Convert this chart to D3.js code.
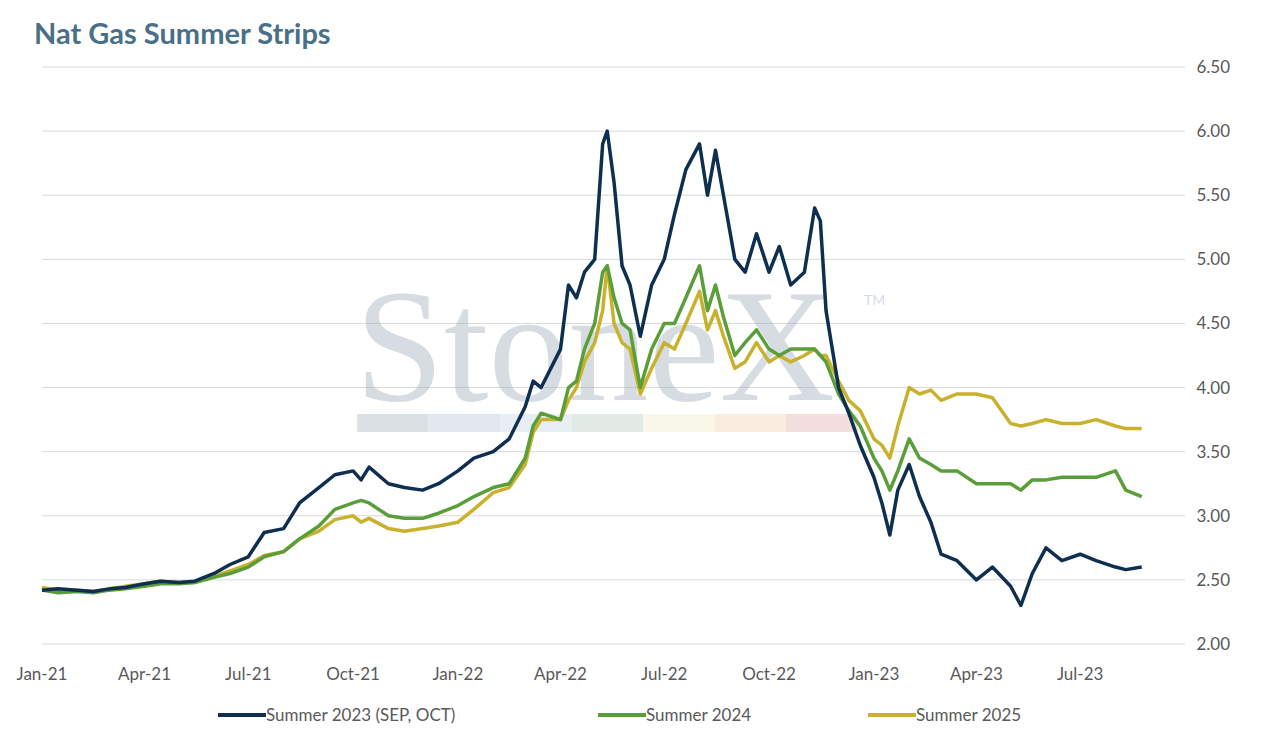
<!DOCTYPE html>
<html><head><meta charset="utf-8">
<script src="https://cdn.jsdelivr.net/npm/d3@7"></script>
<style>body{margin:0;background:#fff;font-family:Lato,"Open Sans",sans-serif;}</style>
</head><body><svg id="c" width="1271" height="734"></svg>
<script>
// date, summer23, summer24, summer25
var rows = [
["2021-01-01",2.42,2.42,2.44],["2021-01-15",2.43,2.40,2.42],["2021-02-01",2.42,2.41,2.42],["2021-02-15",2.41,2.40,2.41],
["2021-03-01",2.43,2.42,2.43],["2021-03-15",2.44,2.43,2.45],["2021-04-01",2.47,2.45,2.47],["2021-04-15",2.49,2.47,2.49],
["2021-05-01",2.48,2.47,2.48],["2021-05-15",2.49,2.48,2.48],["2021-06-01",2.55,2.52,2.53],["2021-06-15",2.62,2.55,2.57],
["2021-07-01",2.68,2.60,2.62],["2021-07-15",2.87,2.68,2.69],["2021-08-01",2.90,2.72,2.72],["2021-08-15",3.10,2.82,2.82],
["2021-09-01",3.22,2.92,2.88],["2021-09-15",3.32,3.05,2.97],["2021-10-01",3.35,3.10,3.00],["2021-10-08",3.28,3.12,2.95],
["2021-10-15",3.38,3.10,2.98],["2021-11-01",3.25,3.00,2.90],["2021-11-15",3.22,2.98,2.88],["2021-12-01",3.20,2.98,2.90],
["2021-12-15",3.25,3.02,2.92],["2022-01-01",3.35,3.08,2.95],["2022-01-15",3.45,3.15,3.05],["2022-02-01",3.50,3.22,3.18],
["2022-02-15",3.60,3.25,3.22],["2022-03-01",3.85,3.45,3.40],["2022-03-08",4.05,3.70,3.65],["2022-03-15",4.00,3.80,3.75],
["2022-04-01",4.30,3.75,3.75],["2022-04-08",4.80,4.00,3.90],["2022-04-15",4.70,4.05,4.00],["2022-04-22",4.90,4.30,4.20],
["2022-05-01",5.00,4.50,4.35],["2022-05-08",5.90,4.90,4.60],["2022-05-12",6.00,4.95,4.95],["2022-05-18",5.60,4.70,4.50],
["2022-05-25",4.95,4.50,4.35],["2022-06-01",4.80,4.45,4.30],["2022-06-10",4.40,4.00,3.95],["2022-06-20",4.80,4.30,4.15],
["2022-07-01",5.00,4.50,4.35],["2022-07-10",5.35,4.50,4.30],["2022-07-20",5.70,4.70,4.50],["2022-08-01",5.90,4.95,4.75],
["2022-08-08",5.50,4.60,4.45],["2022-08-15",5.85,4.80,4.60],["2022-08-22",5.50,4.55,4.40],["2022-09-01",5.00,4.25,4.15],
["2022-09-10",4.90,4.35,4.20],["2022-09-20",5.20,4.45,4.35],["2022-10-01",4.90,4.30,4.20],["2022-10-10",5.10,4.25,4.25],
["2022-10-20",4.80,4.30,4.20],["2022-11-01",4.90,4.30,4.25],["2022-11-10",5.40,4.30,4.30],["2022-11-15",5.30,4.25,4.25],
["2022-11-20",4.60,4.20,4.25],["2022-12-01",4.00,3.95,4.05],["2022-12-10",3.80,3.82,3.90],["2022-12-20",3.55,3.70,3.82],
["2023-01-01",3.30,3.45,3.60],["2023-01-08",3.10,3.35,3.55],["2023-01-15",2.85,3.20,3.45],["2023-01-22",3.20,3.35,3.70],
["2023-02-01",3.40,3.60,4.00],["2023-02-10",3.15,3.45,3.95],["2023-02-20",2.95,3.40,3.98],["2023-03-01",2.70,3.35,3.90],
["2023-03-15",2.65,3.35,3.95],["2023-04-01",2.50,3.25,3.95],["2023-04-15",2.60,3.25,3.92],["2023-05-01",2.45,3.25,3.72],
["2023-05-10",2.30,3.20,3.70],["2023-05-20",2.55,3.28,3.72],["2023-06-01",2.75,3.28,3.75],["2023-06-15",2.65,3.30,3.72],
["2023-07-01",2.70,3.30,3.72],["2023-07-15",2.65,3.30,3.75],["2023-08-01",2.60,3.35,3.70],["2023-08-10",2.58,3.20,3.68],
["2023-08-24",2.60,3.15,3.68]
];
var parse = d3.timeParse("%Y-%m-%d");
var data = rows.map(function(r){ return {d: parse(r[0]), v: [r[1], r[2], r[3]]}; });
var series = [
  {name: "Summer 2023 (SEP, OCT)", color: "#0e2f4f"},
  {name: "Summer 2024", color: "#5a9e3a"},
  {name: "Summer 2025", color: "#c9b12e"}
];

var svg = d3.select("#c");
var x = d3.scaleTime().domain([parse("2021-01-01"), parse("2023-10-01")]).range([42, 1185]);
var y = d3.scaleLinear().domain([2, 6.5]).range([644, 67]);

svg.append("text").attr("x", 34).attr("y", 44).text("Nat Gas Summer Strips")
  .attr("fill", "#4a7089").attr("font-size", 29).attr("font-weight", 700);

// grid
svg.append("g").selectAll("line").data(y.ticks(9)).join("line")
  .attr("x1", 42).attr("x2", 1185).attr("y1", y).attr("y2", y)
  .attr("stroke", "#d9d9d9");
svg.append("g").selectAll("text").data(y.ticks(9)).join("text")
  .attr("x", 1230).attr("y", function(d){ return y(d) + 6; }).attr("text-anchor", "end")
  .attr("font-size", 17).attr("fill", "#595959").text(d3.format(".2f"));

var xt = d3.timeMonth.every(3).range(parse("2021-01-01"), parse("2023-08-01"));
svg.append("g").selectAll("text").data(xt).join("text")
  .attr("x", x).attr("y", 680).attr("text-anchor", "middle")
  .attr("font-size", 17).attr("fill", "#595959").text(d3.timeFormat("%b-%y"));

// watermark
var wm = svg.append("g").attr("opacity", 0.4);
wm.append("text").attr("x", 355).attr("y", 400).text("StoneX")
  .attr("font-family", "Liberation Serif, serif").attr("font-size", 160).attr("fill", "#9aa9b9");
wm.append("text").attr("x", 864).attr("y", 305).text("TM").attr("font-size", 14).attr("fill", "#9aa9b9");
["#a6b2c0","#b8c8da","#c8d8e6","#b3cfc0","#eeecc8","#f2d3b0","#e6b0b4"].forEach(function(c, i){
  wm.append("rect").attr("x", 357 + i*71.5).attr("y", 414).attr("width", 71.5).attr("height", 18).attr("fill", c);
});

var line = d3.line().x(function(d){ return x(d.d); });
[2,1,0].forEach(function(i){
  svg.append("path").datum(data)
    .attr("d", line.y(function(d){ return y(d.v[i]); }))
    .attr("fill", "none").attr("stroke", series[i].color).attr("stroke-width", 3.5)
    .attr("stroke-linejoin", "round");
});

// legend
var lx = [218, 598, 868];
series.forEach(function(s, i){
  var g = svg.append("g").attr("transform", "translate(" + lx[i] + ",715)");
  g.append("line").attr("x1", 0).attr("x2", 48).attr("stroke", s.color).attr("stroke-width", 4);
  g.append("text").attr("x", 48).attr("y", 6).text(s.name).attr("font-size", 17).attr("fill", "#595959");
});
</script></body></html>
